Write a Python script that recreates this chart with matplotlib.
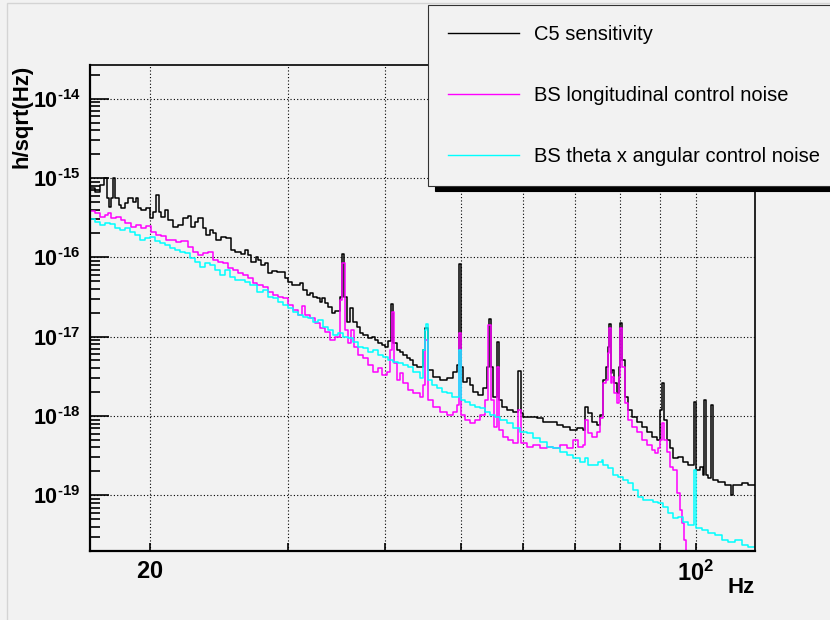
import numpy as np
import matplotlib.pyplot as plt
from matplotlib.patches import Rectangle
from matplotlib.ticker import FixedLocator, NullFormatter, LogLocator, FuncFormatter

plt.rcParams['font.family'] = ['Liberation Sans', 'DejaVu Sans']
plt.rcParams['mathtext.fontset'] = 'custom'
plt.rcParams['mathtext.rm'] = 'Liberation Sans'
plt.rcParams['mathtext.bf'] = 'Liberation Sans:bold'

# spectra: frequency (Hz) where each histogram run starts,
# and amplitude spectral density h/sqrt(Hz)
c5_freq = [16.70, 17.01, 17.26, 17.47, 17.62, 17.73, 17.82, 17.93, 18.03, 18.25,
           18.36, 18.58, 18.75, 19.02, 19.19, 19.30, 19.48, 19.77, 20.00, 20.18,
           20.36, 20.54, 20.66, 20.91, 21.09, 21.41, 21.73, 22.04, 22.37, 22.58,
           22.85, 23.05, 23.39, 23.59, 23.87, 24.08, 24.30, 24.66, 25.03, 25.41,
           25.71, 26.16, 26.47, 26.70, 26.95, 27.35, 27.51, 27.75, 28.08, 28.33,
           28.67, 29.10, 29.79, 30.05, 30.41, 31.13, 31.41, 31.78, 32.07, 32.36,
           32.74, 33.03, 33.22, 33.52, 33.82, 34.21, 34.52, 35.03, 35.24, 35.45,
           35.76, 36.08, 36.40, 36.83, 37.16, 37.49, 38.05, 38.50, 38.84, 39.18,
           39.64, 40.00, 40.35, 40.71, 40.95, 41.44, 41.80, 42.17, 42.67, 43.05,
           43.43, 43.95, 44.73, 45.00, 45.40, 46.08, 47.03, 48.01, 48.87, 49.45,
           49.75, 50.04, 50.33, 50.93, 51.38, 51.84, 52.61, 53.39, 54.03, 54.35,
           54.66, 54.99, 55.64, 55.97, 56.46, 57.30, 58.32, 59.19, 59.72, 60.07,
           62.60, 63.72, 65.05, 66.41, 67.59, 69.00, 70.44, 71.69, 72.12, 72.76,
           73.62, 74.72, 75.38, 76.05, 76.73, 77.18, 77.41, 77.75, 78.09, 78.55,
           79.25, 79.73, 79.96, 80.43, 81.15, 81.87, 82.84, 84.07, 85.31, 86.58,
           87.87, 89.18, 89.96, 90.49, 91.03, 91.84, 92.65, 93.47, 94.86, 96.27,
           97.70, 99.45, 100.04, 101.2, 102.1, 102.4, 102.9, 103.6, 104.5, 105.1,
           106.7, 109.0, 110.9, 111.6, 114.6, 116.6, 119.5]
c5_amp = [7.5e-16, 6.7e-16, 8.2e-16, 1.0e-15, 5.6e-16, 4.3e-16, 5.6e-16, 1.0e-15, 5.6e-16, 4.6e-16,
          4.2e-16, 4.8e-16, 5.6e-16, 5.0e-16, 5.6e-16, 4.2e-16, 3.9e-16, 4.2e-16, 3.1e-16, 3.7e-16,
          6.1e-16, 3.7e-16, 3.2e-16, 3.9e-16, 2.95e-16, 2.4e-16, 2.55e-16, 3.1e-16, 3.3e-16, 2.4e-16,
          2.8e-16, 3.1e-16, 2.35e-16, 1.9e-16, 2.2e-16, 2.0e-16, 1.65e-16, 1.8e-16, 1.75e-16, 1.24e-16,
          1.17e-16, 1.1e-16, 1.24e-16, 1.07e-16, 8.7e-17, 1.0e-16, 9.2e-17, 8.0e-17, 8.4e-17, 6.3e-17,
          6.7e-17, 6.5e-17, 5.5e-17, 4.9e-17, 4.5e-17, 4.7e-17, 3.9e-17, 3.35e-17, 3.55e-17, 3.15e-17,
          3.1e-17, 2.7e-17, 3.1e-17, 2.65e-17, 2.35e-17, 2.0e-17, 2.1e-17, 3.15e-17, 1.1e-16, 3.15e-17,
          1.53e-17, 2.3e-17, 1.53e-17, 1.32e-17, 1.1e-17, 1.05e-17, 9.6e-18, 9.9e-18, 9.1e-18, 8.3e-18,
          7.8e-18, 7.4e-18, 8.8e-18, 2.6e-17, 8.3e-18, 6.8e-18, 6.4e-18, 5.85e-18, 5.4e-18, 5.1e-18,
          4.4e-18, 4.1e-18, 6.8e-18, 1.3e-17, 3.8e-18, 3.1e-18, 2.8e-18, 3.0e-18, 3.6e-18, 4.4e-18,
          8.2e-17, 4.1e-18, 2.7e-18, 3.0e-18, 2.45e-18, 2.0e-18, 1.85e-18, 2.25e-18, 4.1e-18, 1.67e-17,
          4.1e-18, 1.73e-18, 8.5e-18, 1.59e-18, 1.3e-18, 1.19e-18, 1.12e-18, 3.7e-18, 1.09e-18, 9.7e-19,
          9.4e-19, 8.4e-19, 8.3e-19, 7.7e-19, 7.2e-19, 6.6e-19, 7.0e-19, 6.6e-19, 1.3e-18, 1.09e-18,
          8.4e-19, 7.7e-19, 1.03e-18, 2.8e-18, 4.1e-18, 7.4e-18, 1.45e-17, 3.5e-18, 3.8e-18, 2.6e-18,
          1.95e-18, 4.1e-18, 1.5e-17, 5.1e-18, 1.73e-18, 1.19e-18, 9.7e-19, 8.4e-19, 7.2e-19, 6.3e-19,
          5.4e-19, 5.0e-19, 1.19e-18, 2.6e-18, 8.9e-19, 5.0e-19, 3.9e-19, 2.95e-19, 3.0e-19, 2.6e-19,
          2.4e-19, 1.5e-18, 2.1e-19, 2.25e-19, 1.8e-19, 1.59e-18, 1.8e-19, 1.65e-19, 1.37e-18, 1.55e-19,
          1.47e-19, 1.34e-19, 1.0e-19, 1.34e-19, 1.42e-19, 1.34e-19, 1.34e-19]

bs_long_freq = [16.70, 17.01, 17.26, 17.52, 17.67, 17.82, 18.09, 18.36, 18.58, 18.91,
                19.19, 19.48, 19.77, 20.06, 20.36, 20.66, 20.97, 21.60, 21.92, 22.37,
                22.71, 23.05, 23.39, 23.73, 24.08, 24.44, 24.81, 25.18, 25.56, 25.94,
                26.31, 26.70, 27.11, 27.43, 27.92, 28.33, 28.75, 29.18, 29.61, 30.05,
                30.50, 30.95, 31.31, 31.59, 32.07, 32.55, 33.03, 33.52, 34.01, 34.52,
                35.03, 35.24, 35.55, 35.87, 36.19, 36.51, 36.94, 37.49, 38.05, 38.61,
                39.18, 39.64, 40.23, 40.59, 40.83, 41.07, 41.44, 41.80, 42.17, 42.80,
                43.43, 44.34, 44.73, 45.00, 45.40, 46.08, 47.03, 48.01, 48.87, 49.45,
                49.75, 50.04, 50.63, 51.38, 52.15, 52.92, 53.71, 54.18, 54.66, 55.15,
                55.64, 55.97, 56.63, 57.47, 58.32, 59.19, 59.72, 60.78, 61.87, 63.16,
                64.48, 65.63, 66.99, 68.39, 69.61, 70.65, 71.69, 72.12, 72.76, 73.62,
                74.72, 75.38, 76.05, 76.73, 77.18, 77.41, 77.75, 78.09, 78.55, 79.25,
                79.73, 79.96, 80.43, 81.15, 81.87, 82.84, 84.07, 85.31, 86.58, 87.87,
                88.65, 89.44, 89.96, 90.49, 91.03, 91.84, 92.65, 93.47, 94.59, 95.42,
                95.98, 96.56, 97.13, 119.5]
bs_long_amp = [3.8e-16, 3.6e-16, 3.2e-16, 3.4e-16, 3.6e-16, 3.1e-16, 3.2e-16, 2.95e-16, 2.7e-16, 2.4e-16,
               2.55e-16, 2.35e-16, 2.5e-16, 2.1e-16, 1.9e-16, 1.85e-16, 1.65e-16, 1.56e-16, 1.6e-16, 1.35e-16,
               1.17e-16, 1.07e-16, 1.13e-16, 1.17e-16, 9.2e-17, 8.7e-17, 8.5e-17, 7.3e-17, 6.9e-17, 6.3e-17,
               6.0e-17, 5.5e-17, 4.7e-17, 4.5e-17, 4.2e-17, 3.65e-17, 3.35e-17, 3.15e-17, 3.1e-17, 2.5e-17,
               2.15e-17, 1.87e-17, 2.4e-17, 1.87e-17, 1.7e-17, 1.48e-17, 1.28e-17, 1.14e-17, 9.1e-18, 9.9e-18,
               2.9e-17, 8.5e-17, 1.2e-17, 8.3e-18, 1.2e-17, 7.4e-18, 5.85e-18, 5.4e-18, 4.4e-18, 3.6e-18,
               4.0e-18, 3.3e-18, 3.6e-18, 6.8e-18, 2.04e-17, 4.65e-18, 2.8e-18, 3.45e-18, 2.6e-18, 2.1e-18,
               1.95e-18, 1.73e-18, 2.45e-18, 9.1e-18, 1.59e-18, 1.3e-18, 1.12e-18, 1.03e-18, 1.12e-18, 1.37e-18,
               1.1e-17, 1.03e-18, 8.9e-19, 8.1e-19, 8.9e-19, 1.03e-18, 1.59e-18, 1.4e-17, 1.59e-18, 7.2e-19,
               4.1e-18, 6.6e-19, 5.4e-19, 5.0e-19, 4.55e-19, 1.19e-18, 4.55e-19, 4.05e-19, 4.3e-19, 3.9e-19,
               4.05e-19, 3.9e-19, 4.3e-19, 3.9e-19, 5.0e-19, 4.05e-19, 4.3e-19, 8.9e-19, 6.1e-19, 5.4e-19,
               6.3e-19, 9.4e-19, 2.6e-18, 2.8e-18, 6.2e-18, 1.28e-17, 2.6e-18, 3.1e-18, 1.95e-18, 1.45e-18,
               3.1e-18, 1.28e-17, 4.1e-18, 1.45e-18, 8.9e-19, 7.2e-19, 6.3e-19, 5.0e-19, 4.3e-19, 3.7e-19,
               3.4e-19, 3.9e-19, 5.0e-19, 8.1e-19, 5.0e-19, 3.55e-19, 2.25e-19, 2.1e-19, 1.07e-19, 6.5e-20,
               4.5e-20, 2.7e-20, 0.0, 0.0]

bs_theta_freq = [16.70, 17.01, 17.26, 17.52, 17.77, 18.03, 18.31, 18.58, 18.85, 19.13,
                 19.42, 19.71, 20.00, 20.30, 20.60, 20.91, 21.22, 21.54, 21.85, 22.18,
                 22.51, 22.85, 23.18, 23.53, 23.87, 24.23, 24.59, 24.96, 25.33, 25.71,
                 26.47, 26.87, 27.43, 27.92, 28.33, 28.75, 29.18, 29.61, 30.05, 30.50,
                 30.95, 31.41, 31.87, 32.36, 32.84, 33.32, 33.82, 34.31, 34.82, 35.34,
                 35.87, 36.40, 36.94, 37.49, 38.05, 38.61, 39.18, 39.76, 40.35, 40.95,
                 41.56, 42.17, 42.80, 43.43, 44.34, 44.73, 45.00, 45.13, 45.40, 45.94,
                 46.62, 47.31, 48.01, 48.73, 49.75, 50.04, 50.63, 51.38, 52.15, 52.92,
                 53.71, 54.50, 55.31, 56.13, 57.30, 58.32, 59.54, 60.78, 61.87, 63.16,
                 64.48, 65.63, 66.99, 68.39, 69.61, 71.06, 72.12, 72.76, 74.94, 75.82,
                 76.05, 77.18, 78.32, 79.49, 80.67, 81.87, 83.08, 84.32, 85.56, 88.13,
                 89.44, 90.76, 92.11, 93.47, 94.86, 96.27, 97.70, 99.45, 100.04, 101.8,
                 103.6, 105.8, 108.0, 110.0, 112.2, 114.6, 116.6, 119.5]
bs_theta_amp = [3.05e-16, 2.8e-16, 2.55e-16, 2.7e-16, 2.6e-16, 2.35e-16, 2.2e-16, 2.35e-16, 2.1e-16, 1.9e-16,
                1.65e-16, 1.75e-16, 1.8e-16, 1.6e-16, 1.5e-16, 1.43e-16, 1.31e-16, 1.24e-16, 1.17e-16, 1.13e-16,
                9.8e-17, 8.7e-17, 7.5e-17, 8.5e-17, 8.0e-17, 6.9e-17, 6.0e-17, 6.9e-17, 5.65e-17, 5.2e-17,
                4.9e-17, 4.5e-17, 3.65e-17, 3.9e-17, 3.15e-17, 3.1e-17, 2.7e-17, 2.5e-17, 2.3e-17, 2.05e-17,
                1.87e-17, 1.77e-17, 1.7e-17, 1.53e-17, 1.62e-17, 1.32e-17, 1.21e-17, 1.05e-17, 1.1e-17, 9.9e-18,
                9.6e-18, 8.5e-18, 7.4e-18, 7.2e-18, 6.4e-18, 6.8e-18, 5.85e-18, 5.5e-18, 5.1e-18, 4.8e-18,
                4.65e-18, 4.4e-18, 4.1e-18, 3.6e-18, 3.0e-18, 6.8e-18, 1.2e-17, 1.45e-17, 2.8e-18, 2.45e-18,
                2.25e-18, 2.0e-18, 1.95e-18, 1.73e-18, 6.8e-18, 1.59e-18, 1.5e-18, 1.37e-18, 1.3e-18, 1.26e-18,
                1.12e-18, 1.03e-18, 9.7e-19, 8.9e-19, 8.1e-19, 7.0e-19, 6.3e-19, 6.1e-19, 5.25e-19, 4.7e-19,
                4.05e-19, 3.9e-19, 3.5e-19, 3.2e-19, 2.95e-19, 2.6e-19, 2.95e-19, 2.4e-19, 2.6e-19, 2.8e-19,
                2.4e-19, 2.2e-19, 1.8e-19, 1.7e-19, 1.55e-19, 1.42e-19, 1.16e-19, 9.5e-20, 8.7e-20, 8.2e-20,
                8.0e-20, 7.1e-20, 6.0e-20, 5.2e-20, 5.3e-20, 4.6e-20, 4.2e-20, 2.1e-19, 3.85e-20, 3.6e-20,
                3.3e-20, 3.15e-20, 2.7e-20, 2.55e-20, 2.7e-20, 2.35e-20, 2.25e-20, 2.25e-20]

labels = ['C5 sensitivity', 'BS longitudinal control noise', 'BS theta x angular control noise']
colors = ['black', '#ff00ff', '#00ffff']

x_range = (16.76, 119.0)
y_range = (1.98e-20, 2.66e-14)
x_major = [20, 100]
x_minor = [30, 40, 50, 60, 70, 80, 90]
y_major = [1e-19, 1e-18, 1e-17, 1e-16, 1e-15, 1e-14]

bg = '#f2f2f2'
fig = plt.figure(figsize=(8.3, 6.2), dpi=100, facecolor=bg)
ax = fig.add_axes([90 / 830, 69 / 620, 665 / 830, 486 / 620])
ax.set_facecolor(bg)
ax.set_xscale('log')
ax.set_yscale('log')

series = [(c5_freq, c5_amp), (bs_long_freq, bs_long_amp), (bs_theta_freq, bs_theta_amp)]
for (f, a), lab, col in zip(series, labels, colors):
    # like ROOT, bins below the axis minimum are drawn on the axis
    a = np.clip(np.array(a), y_range[0], None)
    ax.step(f, a, where='post', color=col, lw=1.1, label=lab)

ax.set_xlim(*x_range)
ax.set_ylim(*y_range)


def decade_label(v, pos):
    e = int(round(np.log10(v)))
    # plain hyphen in the exponent, as in the original ROOT canvas
    return '$\\mathbf{10^{\u2010' + str(-e) + '}}$'


ax.xaxis.set_major_locator(FixedLocator(x_major))
ax.xaxis.set_minor_locator(FixedLocator(x_minor))
ax.xaxis.set_major_formatter(FuncFormatter(
    lambda v, p: r'$\mathbf{20}$' if v < 50 else r'$\mathbf{10^{2}}$'))
ax.xaxis.set_minor_formatter(NullFormatter())
ax.yaxis.set_major_locator(FixedLocator(y_major))
ax.yaxis.set_minor_locator(LogLocator(base=10, subs=np.arange(2, 10), numticks=20))
ax.yaxis.set_major_formatter(FuncFormatter(decade_label))
ax.yaxis.set_minor_formatter(NullFormatter())

ax.tick_params(which='both', direction='in', top=False, right=False, width=1.2)
ax.tick_params(axis='x', which='both', length=5.8, pad=7, labelsize=17)
ax.tick_params(axis='y', which='major', length=13.5, pad=7, labelsize=15.5)
ax.tick_params(axis='y', which='minor', length=7)

ax.grid(True, axis='x', which='both', color='black', ls=(0, (1, 2)), lw=0.8)
ax.grid(True, axis='y', which='major', color='black', ls=(0, (1, 2)), lw=0.8)

for side in ['left', 'bottom']:
    ax.spines[side].set_linewidth(1.6)
for side in ['top', 'right']:
    ax.spines[side].set_linewidth(1.2)

ax.set_xlabel('Hz', fontsize=16, fontweight='bold', ha='right', va='center')
ax.xaxis.set_label_coords(1.0, -0.076)
ax.set_ylabel('h/sqrt(Hz)', fontsize=16, fontweight='bold', ha='right', va='center')
ax.yaxis.set_label_coords(-0.103, 1.0)

leg = fig.legend(loc='upper left', bbox_to_anchor=(428 / 830, 1 - 5 / 620),
                 fontsize=14.5, frameon=True, fancybox=False,
                 shadow={'color': 'black', 'alpha': 1, 'ox': 5, 'oy': -3.6},
                 handlelength=3.5, handletextpad=0.75, labelspacing=2.08,
                 borderpad=1.0, borderaxespad=0)
leg.get_frame().set_facecolor(bg)
leg.get_frame().set_edgecolor('#333333')
leg.get_frame().set_linewidth(0.8)
for line in leg.get_lines():
    line.set_linewidth(1.0)

# canvas edge
fig.patches.append(Rectangle((7 / 830, -0.1), 2, 1.1 - 3 / 620, transform=fig.transFigure,
                             fill=False, edgecolor='#d4d4d4', lw=1))

fig.savefig('out.png', dpi=100, facecolor=bg)
